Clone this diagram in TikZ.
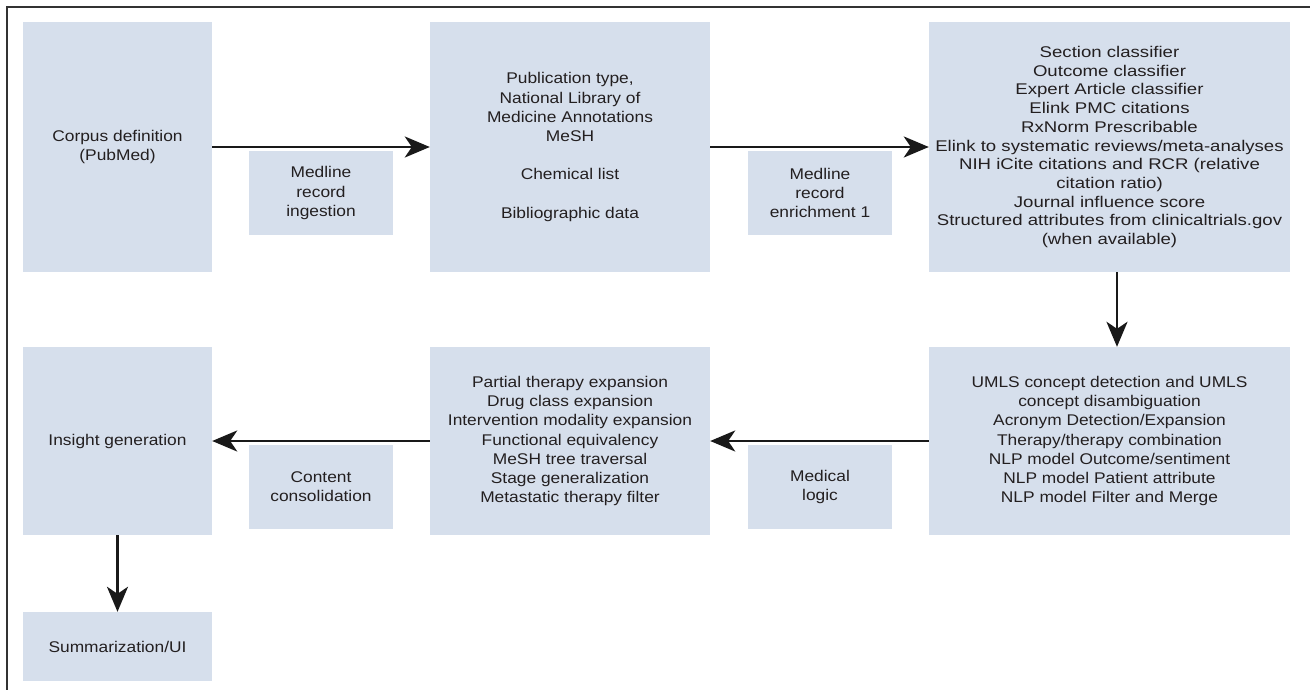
\documentclass[tikz,border=0pt]{standalone}
\usepackage{fontspec}
\setmainfont{Liberation Sans}
\newfontfamily\boxfont{Liberation Sans}[FakeStretch=1.12]
\newfontfamily\widefont{Liberation Sans}[FakeStretch=1.2]
\usetikzlibrary{arrows.meta}
\definecolor{boxfill}{RGB}{214,223,236}
\definecolor{txt}{RGB}{35,31,32}
\begin{document}
\begin{tikzpicture}[x=1pt,y=-1pt,
  box/.style={fill=boxfill, draw=none, inner sep=0pt, align=center, text=txt,
    font=\boxfont\fontsize{15.5}{19.2}\selectfont},
  widebox/.style={box, font=\widefont\fontsize{15.5}{18.7}\selectfont},
  bigtop/.style={box, minimum height=250pt},
  biglow/.style={box, minimum height=188pt},
  smallbox/.style={box, minimum width=144pt, minimum height=84pt},
  arr/.style={draw=black!90, line width=2.6pt, -{Stealth[length=25pt,width=21pt,inset=7pt]}},
  frameline/.style={draw=black!80, line width=1.3pt}]
\useasboundingbox (0,0) rectangle (1310,690);
\draw[frameline] (7,690) -- (7,7) -- (1310,7);

% top row
\node[bigtop, minimum width=189pt] (b1) at (117.5,147) {Corpus definition\\(PubMed)};
\node[bigtop, minimum width=280pt] (b2) at (570,147) {Publication type,\\National Library of\\Medicine Annotations\\MeSH\\[19.2pt]Chemical list\\[19.2pt]Bibliographic data};
\node[bigtop, widebox, minimum width=361pt] (b3) at (1109.5,147) {Section classifier\\Outcome classifier\\Expert Article classifier\\Elink PMC citations\\RxNorm Prescribable\\Elink to systematic reviews/meta-analyses\\NIH iCite citations and RCR (relative\\citation ratio)\\Journal influence score\\Structured attributes from clinicaltrials.gov\\(when available)};
\node[smallbox] (s1) at (321,193) {Medline\\record\\ingestion};
\node[smallbox] (s2) at (820,193) {Medline\\record\\enrichment 1};

% lower row
\node[biglow, minimum width=361pt] (b4) at (1109.5,441) {UMLS concept detection and UMLS\\concept disambiguation\\Acronym Detection/Expansion\\Therapy/therapy combination\\NLP model Outcome/sentiment\\NLP model Patient attribute\\NLP model Filter and Merge};
\node[biglow, minimum width=280pt] (b5) at (570,441) {Partial therapy expansion\\Drug class expansion\\Intervention modality expansion\\Functional equivalency\\MeSH tree traversal\\Stage generalization\\Metastatic therapy filter};
\node[biglow, minimum width=189pt] (b6) at (117.5,441) {Insight generation};
\node[smallbox] (s3) at (820,487) {Medical\\logic};
\node[smallbox] (s4) at (321,487) {Content\\consolidation};

\node[box, minimum width=189pt, minimum height=69pt] (b7) at (117.5,646.5) {Summarization/UI};

% connectors
\draw[arr] (b1) -- (b2);
\draw[arr] (b2) -- (b3);
\draw[arr] ([xshift=7.5pt]b3.south) -- ([xshift=7.5pt]b4.north);
\draw[arr] (b4) -- (b5);
\draw[arr] (b5) -- (b6);
\draw[arr] (b6) -- (b7);
\end{tikzpicture}
\end{document}
